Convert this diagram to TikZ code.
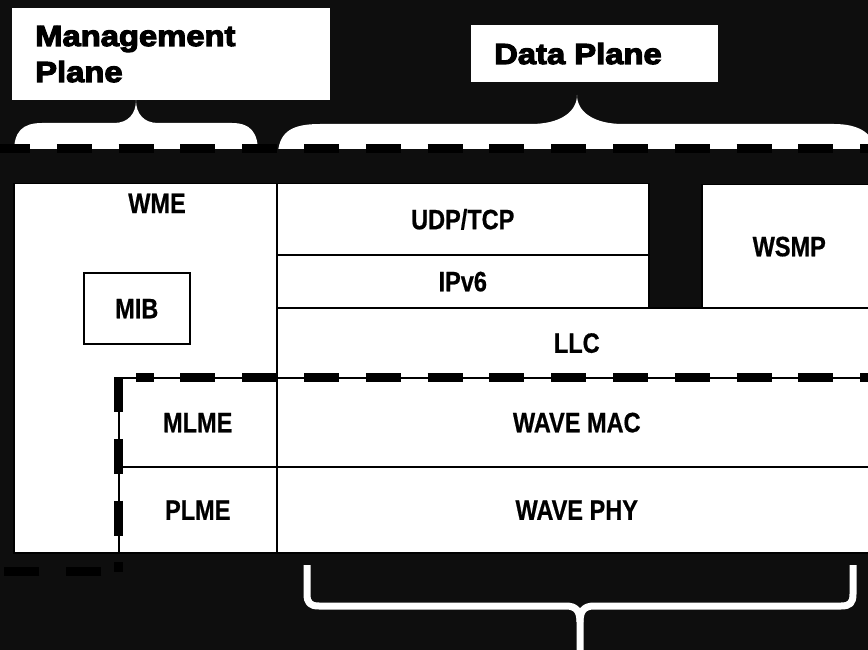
\documentclass[tikz,border=0pt]{standalone}
\usepackage{fontspec}
\newfontfamily\titlefont{Liberation Sans Bold}[FakeStretch=1.13,FakeBold=4]
\newfontfamily\layerfont{Liberation Sans Bold}[FakeStretch=0.84,FakeBold=0.6]
\definecolor{bgdark}{RGB}{14,14,14}
\begin{document}
\begin{tikzpicture}[x=1pt,y=-1pt,
  titlebox/.style={fill=white, draw=none, inner sep=0, anchor=north west},
  titletext/.style={font=\titlefont\fontsize{29}{36}\selectfont, inner sep=0, anchor=base west},
  layer/.style={draw=black, fill=white, line width=1.5pt, inner sep=0, anchor=north west,
                font=\layerfont\fontsize{28}{28}\selectfont, text height=20pt, text depth=0pt},
  layertext/.style={font=\layerfont\fontsize{28}{28}\selectfont, inner sep=0, text height=20pt, text depth=0pt},
  bigdash/.style={line width=9pt, black, line cap=butt, dash pattern=on 35pt off 26.8pt},
  bracefill/.style={fill=white, draw=none},
  bracestroke/.style={draw=white, line width=7pt, line cap=butt, line join=round}]

% canvas
\fill[bgdark] (0,0) rectangle (868,650);
\useasboundingbox (0,0) rectangle (868,650);

% plane titles
\node[titlebox, minimum width=318pt, minimum height=92pt] (mgmtbox) at (12,8) {};
\node[titletext] (mgmtA) at (35,46) {Management};
\node[titletext] (mgmtB) at (35,82) {Plane};
\node[titlebox, minimum width=247pt, minimum height=57pt] (databox) at (471,25) {};
\node[titletext] (dataT) at (494,64) {Data Plane};

% filled braces resting on the plane divider
\begin{scope}
  \clip (0,0) rectangle (880,148.5);
  \fill[bracefill] (14,152) .. controls (14,132) and (22,123) .. (42,123)
     -- (114,123) .. controls (128,123) and (136,114) .. (136,100)
     .. controls (136,114) and (144,123) .. (158,123)
     -- (232,123) .. controls (250,123) and (258,132) .. (258,152) -- cycle;
  \fill[bracefill] (278,152) .. controls (280,131) and (293,124) .. (320,124)
     -- (531,124) .. controls (560,124) and (577,112) .. (577,95)
     .. controls (577,112) and (594,124) .. (623,124)
     -- (834,124) .. controls (860,124) and (874,134) .. (876,152) -- cycle;
\end{scope}

% protocol stack
\node[layer, minimum width=263pt, minimum height=369pt] (wme) at (13,183) {};
\node[layertext] (wmeT) at (157,203) {WME};
\node[layer, minimum width=106pt, minimum height=71pt] (mib) at (83,272) {MIB};
\node[layer, minimum width=372pt, minimum height=71pt] (udp) at (276,183) {UDP/TCP};
\node[layer, minimum width=372pt, minimum height=53pt] (ipv6) at (276,254) {IPv6};
\node[layer, minimum width=175pt, minimum height=123pt] (wsmp) at (701,184) {WSMP};
\node[layer, minimum width=600pt, minimum height=70pt] (llc) at (276,307) {LLC};
\node[layer, minimum width=600pt, minimum height=89pt] (mac) at (276,377) {WAVE MAC};
\node[layer, minimum width=600pt, minimum height=86pt] (phy) at (276,466) {WAVE PHY};
\node[layer, minimum width=158pt, minimum height=89pt] (mlme) at (118,377) {MLME};
\node[layer, minimum width=158pt, minimum height=86pt] (plme) at (118,466) {PLME};

% dashed plane divider
\draw[bigdash] (-5,148.5) -- (873,148.5);

% dashed outline of the 802.11 part
\coordinate (cornerTL) at (mlme.north west);
\coordinate (cornerBL) at (118,572);
\coordinate (leftEnd) at (0,571.5);
\draw[bigdash, dash phase=17.4pt] (136,377) -- (mac.north east);
\draw[bigdash] (cornerTL) -- (cornerBL);
\draw[bigdash, dash phase=45pt] (118,571.5) -- (leftEnd);

% brace under the data plane layers
\coordinate (braceL) at (307,565);
\coordinate (braceR) at (853,565);
\coordinate (braceTip) at (580,652);
\draw[bracestroke] (braceL) -- (307,594) .. controls (307,603) and (310,606) .. (319,606)
   -- (566,606) .. controls (576,606) and (580,611) .. (580,622) -- (braceTip);
\draw[bracestroke] (braceR) -- (853,594) .. controls (853,603) and (850,606) .. (841,606)
   -- (594,606) .. controls (584,606) and (580,611) .. (580,622);
\end{tikzpicture}
\end{document}
